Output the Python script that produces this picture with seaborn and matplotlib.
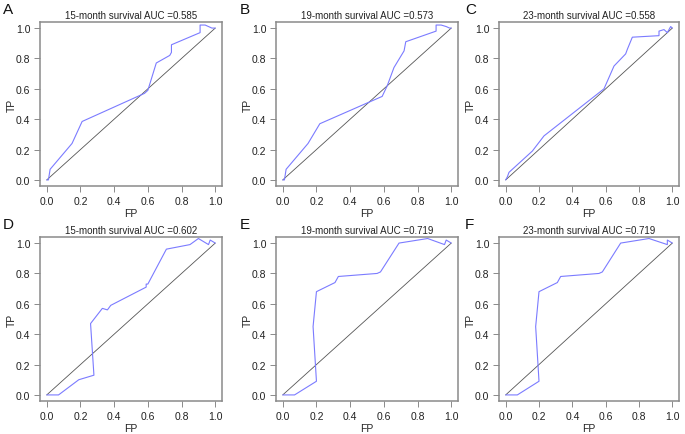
import numpy as np
import pandas as pd
import matplotlib
matplotlib.use("Agg")
import matplotlib.pyplot as plt
import seaborn as sns

sns.set_theme(style="ticks")
plt.rcParams['font.family'] = ['Liberation Sans', 'DejaVu Sans']

letters = ["A", "B", "C", "D", "E", "F"]
titles = ["15-month survival AUC =0.585", "19-month survival AUC =0.573",
          "23-month survival AUC =0.558", "15-month survival AUC =0.602",
          "19-month survival AUC =0.719", "23-month survival AUC =0.719"]

fp_a = [0, 0.01, 0.02, 0.15, 0.21, 0.58, 0.60, 0.65, 0.73, 0.74, 0.74, 0.91, 0.91, 0.94, 0.98, 1.0]
tp_a = [0, 0.0, 0.07, 0.24, 0.385, 0.57, 0.59, 0.77, 0.82, 0.84, 0.89, 0.97, 1.02, 1.02, 1.0, 1.0]

fp_b = [0, 0.01, 0.02, 0.15, 0.22, 0.59, 0.62, 0.66, 0.72, 0.73, 0.91, 0.91, 0.94, 0.97, 0.99, 1.0]
tp_b = [0, 0.0, 0.07, 0.24, 0.37, 0.55, 0.62, 0.74, 0.85, 0.91, 0.98, 1.02, 1.02, 1.01, 1.0, 1.0]

fp_c = [0, 0.01, 0.02, 0.16, 0.23, 0.59, 0.65, 0.72, 0.73, 0.76, 0.92, 0.92, 0.95, 0.97, 0.99, 1.0]
tp_c = [0, 0.02, 0.05, 0.19, 0.29, 0.60, 0.75, 0.83, 0.86, 0.94, 0.95, 0.98, 0.99, 0.97, 1.01, 1.0]

fp_d = [0, 0.07, 0.19, 0.28, 0.26, 0.33, 0.36, 0.38, 0.59, 0.59, 0.60, 0.71, 0.85, 0.90, 0.96, 0.97, 1.0]
tp_d = [0, 0.0, 0.10, 0.13, 0.47, 0.57, 0.56, 0.59, 0.71, 0.73, 0.73, 0.96, 0.99, 1.03, 0.99, 1.02, 1.0]

fp_e = [0, 0.07, 0.20, 0.18, 0.20, 0.31, 0.33, 0.56, 0.58, 0.69, 0.86, 0.96, 0.97, 1.0]
tp_e = [0, 0.0, 0.09, 0.45, 0.68, 0.74, 0.78, 0.80, 0.81, 1.0, 1.03, 0.99, 1.02, 1.0]

fp_f = [0, 0.07, 0.20, 0.18, 0.20, 0.31, 0.33, 0.56, 0.58, 0.69, 0.86, 0.97, 0.97, 1.0]
tp_f = [0, 0.0, 0.09, 0.45, 0.68, 0.74, 0.78, 0.80, 0.81, 1.0, 1.03, 0.99, 1.02, 1.0]

curves = [(fp_a, tp_a), (fp_b, tp_b), (fp_c, tp_c), (fp_d, tp_d), (fp_e, tp_e), (fp_f, tp_f)]
ticks = [0.0, 0.2, 0.4, 0.6, 0.8, 1.0]
tick_labels = ["0.0", "0.2", "0.4", "0.6", "0.8", "1.0"]

fig = plt.figure(figsize=(6.85, 4.35), dpi=100)
lefts = [40, 276, 499]
widths = [182, 182, 180]
tops = [23, 238]
h = 164
W, H = 685, 435
letter_x = [3, 240, 465]
letter_y = [3, 218]

for i, (fp, tp) in enumerate(curves):
    r, c = divmod(i, 3)
    ax = fig.add_axes([lefts[c] / W, 1 - (tops[r] + h) / H, widths[c] / W, h / H])
    df = pd.DataFrame({"FP": fp, "TP": tp})
    ax.plot([0, 1], [0, 1], color="#555555", lw=0.6)
    sns.lineplot(data=df, x="FP", y="TP", sort=False, estimator=None,
                 color="#7b7bff", lw=0.8, ax=ax)
    ax.set_xlim(-0.04, 1.04)
    ax.set_ylim(-0.04, 1.04)
    ax.set_xticks(ticks)
    ax.set_xticklabels(tick_labels)
    ax.set_yticks(ticks)
    ax.set_yticklabels(tick_labels)
    ax.tick_params(labelsize=7.5, length=4, width=0.6, color="#777777",
                   labelcolor="#222222", pad=3)
    for s in ax.spines.values():
        s.set_color("#8a8a8a")
        s.set_linewidth(1.1)
    ax.set_xlabel("FP", fontsize=7.5, labelpad=2, color="#222222")
    ax.set_ylabel("TP", fontsize=7.5, labelpad=0, color="#222222")
    ax.yaxis.set_label_coords(-23 / widths[c], 0.5)
    ax.set_title(titles[i], fontsize=7, pad=3, color="#222222")
    fig.text(letter_x[c] / W, 1 - letter_y[r] / H, letters[i], fontsize=11,
             va="top", ha="left", color="#111111")

fig.savefig("out.png", dpi=100)
